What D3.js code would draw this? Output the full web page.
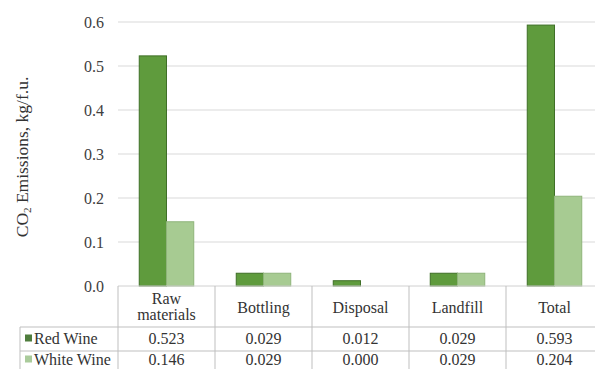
<!DOCTYPE html>
<html>
<head>
<meta charset="utf-8">
<script src="https://cdn.jsdelivr.net/npm/d3@7"></script>
<style>
  html, body { margin: 0; padding: 0; background: #fff; }
  svg { display: block; }
</style>
</head>
<body>
<svg id="chart" width="595" height="369"></svg>
<script>
// Life-cycle stages and CO2 emissions (kg per functional unit)
const categories = [["Raw", "materials"], ["Bottling"], ["Disposal"], ["Landfill"], ["Total"]];
const seriesNames = ["Red Wine", "White Wine"];
const redWine = [0.523, 0.029, 0.012, 0.029, 0.593];
const whiteWine = [0.146, 0.029, 0.000, 0.029, 0.204];
const yTicks = [0.0, 0.1, 0.2, 0.3, 0.4, 0.5, 0.6];

const series = [redWine, whiteWine];
const fills = ["#5f9b3d", "#a7cb92"];
const strokes = ["#3f6f27", "#8fb47a"];
const keyFills = ["#4f7d3d", "#aacb9b"];
const FS = 16;

const svg = d3.select("#chart")
  .attr("font-family", "'Liberation Serif', 'Times New Roman', 'DejaVu Serif', serif");
const plotLeft = 118, plotRight = 603, plotTop = 22, plotBase = 286;

const x = d3.scaleBand().domain(d3.range(categories.length)).range([plotLeft, plotRight]).paddingInner(0).paddingOuter(0);
const y = d3.scaleLinear().domain([0, 0.6]).range([plotBase, plotTop]);
const xs = d3.scaleBand().domain(d3.range(series.length)).range([0, x.bandwidth()]).paddingInner(0).paddingOuter(0.78);

// horizontal gridlines
svg.append("g").selectAll("line").data(yTicks.slice(1)).join("line")
  .attr("x1", plotLeft).attr("x2", 595)
  .attr("y1", d => y(d)).attr("y2", d => y(d))
  .attr("stroke", "#d9d9d9").attr("stroke-width", 1);

// y tick labels
svg.append("g").selectAll("text").data(yTicks).join("text")
  .attr("x", 104).attr("y", d => y(d) + 5.5)
  .attr("text-anchor", "end").attr("font-size", FS).attr("fill", "#404040")
  .text(d => d.toFixed(1));

// y axis title
const title = svg.append("text")
  .attr("transform", "translate(28,157) rotate(-90)")
  .attr("text-anchor", "middle").attr("font-size", 17.5).attr("fill", "#333");
title.append("tspan").text("CO");
title.append("tspan").attr("font-size", 11).attr("dy", 3).text("2");
title.append("tspan").attr("dy", -3).text(" Emissions, kg/f.u.");

// bars
series.forEach((vals, si) => {
  svg.append("g").selectAll("rect").data(vals).join("rect")
    .attr("x", (d, i) => x(i) + xs(si))
    .attr("width", xs.bandwidth())
    .attr("y", d => y(d))
    .attr("height", d => plotBase - y(d))
    .attr("fill", fills[si])
    .attr("stroke", d => d > 0 ? strokes[si] : "none")
    .attr("stroke-width", 1);
});

// data table below the plot
const rowTops = [286, 327, 351, 369];
const tableLine = "#bfbfbf";
const g = svg.append("g").attr("fill", "#333");

// baseline of plot
g.append("line").attr("x1", plotLeft).attr("x2", 595).attr("y1", plotBase).attr("y2", plotBase)
  .attr("stroke", "#d0d0d0");

// horizontal rules
[327, 351].forEach(yy => g.append("line")
  .attr("x1", 20).attr("x2", 595).attr("y1", yy).attr("y2", yy)
  .attr("stroke", tableLine));

// vertical rules
d3.range(categories.length + 1).forEach(i => {
  const xx = i < categories.length ? x(i) : plotRight;
  g.append("line").attr("x1", xx).attr("x2", xx).attr("y1", plotBase).attr("y2", 369)
    .attr("stroke", tableLine);
});
g.append("line").attr("x1", 20).attr("x2", 20).attr("y1", 327).attr("y2", 369)
  .attr("stroke", tableLine);

// category headers
categories.forEach((lines, i) => {
  const cx = x(i) + x.bandwidth() / 2;
  const t = g.append("text").attr("text-anchor", "middle").attr("font-size", FS);
  if (lines.length === 2) {
    t.append("tspan").attr("x", cx).attr("y", 304).text(lines[0]);
    t.append("tspan").attr("x", cx).attr("y", 320).text(lines[1]);
  } else {
    t.append("tspan").attr("x", cx).attr("y", 313).text(lines[0]);
  }
});

// series rows
const rowBaselines = [344, 365];
series.forEach((vals, si) => {
  const ty = rowBaselines[si];
  g.append("rect").attr("x", 25).attr("y", ty - 9.5).attr("width", 7).attr("height", 7)
    .attr("fill", keyFills[si]);
  g.append("text").attr("x", 34).attr("y", ty).attr("font-size", FS).text(seriesNames[si]);
  vals.forEach((v, i) => {
    g.append("text").attr("x", x(i) + x.bandwidth() / 2).attr("y", ty)
      .attr("text-anchor", "middle").attr("font-size", FS).text(v.toFixed(3));
  });
});
</script>
</body>
</html>
